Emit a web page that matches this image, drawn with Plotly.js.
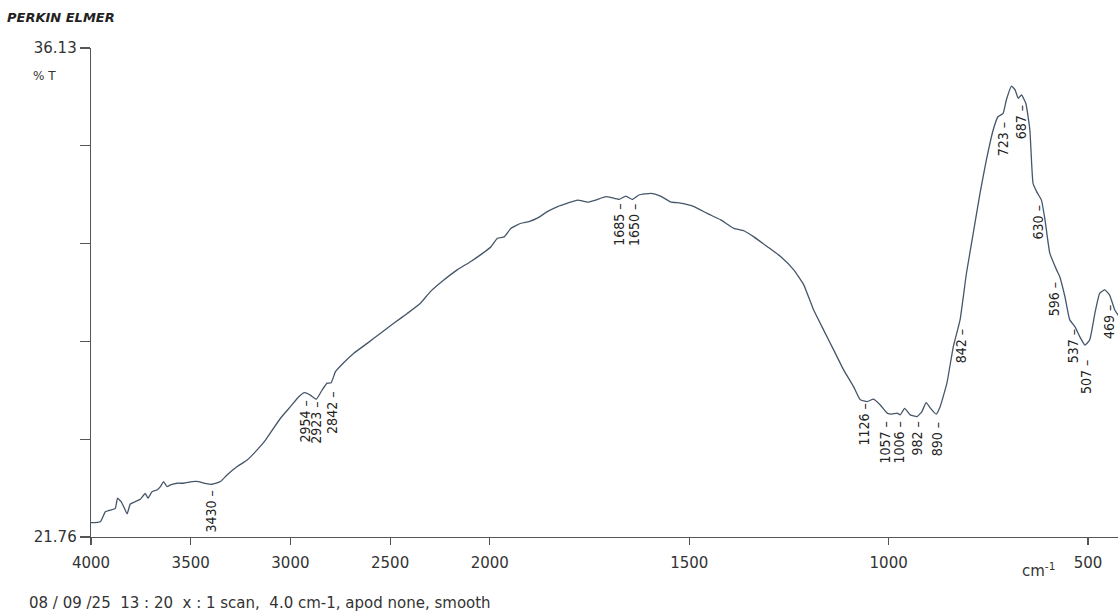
<!DOCTYPE html>
<html>
<head>
<meta charset="utf-8">
<script src="https://cdn.plot.ly/plotly-3.0.1.min.js"></script>
<style>html,body{margin:0;padding:0;background:#fff;}#chart{width:1118px;height:611px;}</style>
</head>
<body>
<div id="chart"></div>
<script>
// Wavenumbers (cm-1) and transmittance (%T)
const wavenumber = [4000,3953,3928,3903,3878,3867,3849,3836,3819,3803,3778,3753,3728,3714,3694,3669,3652,3636,3619,3602,3568,3535,3493,3460,3435,3393,3351,3318,3267,3217,3167,3125,3050,3000,2958,2930,2900,2870,2841,2816,2796,2774,2733,2682,2615,2548,2482,2414,2348,2298,2231,2164,2097,2047,1997,1981,1964,1947,1922,1902,1881,1856,1830,1805,1780,1754,1735,1709,1697,1676,1659,1643,1626,1596,1572,1547,1522,1488,1455,1421,1388,1363,1338,1304,1271,1238,1213,1188,1163,1138,1113,1088,1071,1054,1038,1021,1004,992,979,971,960,946,929,917,906,895,881,871,854,838,821,805,788,771,755,738,726,713,705,692,683,675,667,656,646,638,629,617,608,596,579,571,558,546,533,521,508,496,483,471,458,446,433,420];
const transmittance = [22.18,22.21,22.50,22.55,22.60,22.90,22.80,22.65,22.44,22.73,22.80,22.87,23.04,22.90,23.09,23.14,23.24,23.39,23.24,23.29,23.34,23.34,23.39,23.39,23.34,23.31,23.39,23.58,23.83,24.02,24.32,24.61,25.25,25.59,25.88,26.00,25.93,25.81,26.08,26.28,26.29,26.62,26.88,27.16,27.45,27.75,28.04,28.33,28.63,28.97,29.31,29.61,29.85,30.05,30.29,30.54,30.58,30.83,30.98,31.03,31.13,31.32,31.47,31.57,31.66,31.60,31.66,31.76,31.74,31.68,31.78,31.68,31.81,31.86,31.78,31.61,31.57,31.47,31.27,31.08,30.83,30.76,30.58,30.29,30.00,29.61,29.17,28.43,27.84,27.26,26.67,26.18,25.79,25.74,25.81,25.64,25.40,25.37,25.40,25.35,25.54,25.35,25.30,25.44,25.71,25.54,25.37,25.59,26.28,27.35,28.14,29.51,30.68,31.86,32.84,33.72,34.11,34.21,34.60,35.01,34.90,34.65,34.75,34.50,33.72,32.15,31.91,31.66,31.08,30.10,29.61,29.41,28.82,28.14,27.94,27.65,27.40,27.55,28.33,28.92,29.02,28.87,28.43,28.20];

// Peak labels and where they are printed (cm-1, %T at top of label)
const peakText = ['3430','2954','2923','2842','1685','1650','1126','1057','1006','982','890','842','723','687','630','596','537','507','469'];
const peakAtWn = [3396,2925,2875,2792,1677,1639,1063,1010,975,930,878,818,713,668,625,585,537,505,447];
const peakAtT  = [23.20,25.84,25.80,26.08,31.60,31.60,25.73,25.20,25.20,25.20,25.20,27.93,34.01,34.51,31.57,29.31,27.93,27.02,28.64];

// Axis
const xTickLabels = ['4000','3500','3000','2500','2000','1500','1000','500'];
const yMin = 21.76, yMax = 36.13;

// Perkin Elmer scale: 2x expansion below 2000 cm-1
function xpos(w){ return w >= 2000 ? (4000 - w) / 2 : 1000 + (2000 - w); }

const yMinorTicks = [];
for (let k = 1; k < 5; k++) yMinorTicks.push(yMin + k * (yMax - yMin) / 5);

const trace = {
  x: wavenumber.map(xpos),
  y: transmittance,
  type: 'scatter',
  mode: 'lines',
  line: {color: '#46566a', width: 1.3, shape: 'spline', smoothing: 0.4},
  hoverinfo: 'skip'
};

const labelFont = {family: '"Liberation Sans Narrow","DejaVu Sans Condensed","Roboto Condensed","DejaVu Sans"', size: 14, color: '#222'};
const annotations = peakText.map((t, i) => ({
  x: xpos(peakAtWn[i]), y: peakAtT[i], xref: 'x', yref: 'y',
  text: t + ' \u2013', showarrow: false, textangle: -90,
  xanchor: 'center', yanchor: 'top', font: labelFont
}));

const mainFont = {family: '"DejaVu Sans", Verdana, sans-serif', size: 15, color: '#333'};
annotations.push(
  {xref: 'paper', yref: 'paper', x: -0.0448, y: 0.943, text: '% T', showarrow: false, xanchor: 'center', yanchor: 'middle', font: {family: '"DejaVu Sans"', size: 12, color: '#333'}},
  {xref: 'paper', yref: 'paper', x: -0.0837, y: 1.063, text: '<b><i>PERKIN ELMER</i></b>', showarrow: false, xanchor: 'left', yanchor: 'middle', font: {family: '"DejaVu Sans"', size: 13, color: '#222'}},
  {xref: 'paper', yref: 'paper', x: 0.923, y: -0.0675, text: 'cm<sup>-1</sup>', showarrow: false, xanchor: 'center', yanchor: 'middle', font: mainFont},
  {xref: 'paper', yref: 'paper', x: -0.0623, y: -0.135, text: '08 / 09 /25  13 : 20  x : 1 scan,  4.0 cm-1, apod none, smooth', showarrow: false, xanchor: 'left', yanchor: 'middle', font: mainFont}
);

const layout = {
  width: 1118, height: 611,
  margin: {l: 91, r: 0, t: 48, b: 74},
  paper_bgcolor: '#fff', plot_bgcolor: '#fff',
  showlegend: false,
  font: mainFont,
  xaxis: {
    range: [0, 2575], showgrid: false, zeroline: false,
    showline: true, linecolor: '#555', linewidth: 1.3,
    ticks: 'outside', ticklen: 7, tickcolor: '#555', tickwidth: 1.2,
    tickvals: xTickLabels.map(Number).map(xpos),
    ticktext: xTickLabels, ticklabelstandoff: 5,
    tickfont: mainFont
  },
  yaxis: {
    range: [yMin, yMax], showgrid: false, zeroline: false,
    showline: true, linecolor: '#555', linewidth: 1.3,
    ticks: 'outside', ticklen: 10, tickcolor: '#555', tickwidth: 1.2,
    tickvals: [yMin, yMax], ticktext: [yMin.toFixed(2), yMax.toFixed(2)], tickfont: mainFont,
    minor: {tickvals: yMinorTicks, ticks: 'outside', ticklen: 10, tickcolor: '#555', tickwidth: 1.2, showgrid: false}
  },
  annotations: annotations
};

Plotly.newPlot('chart', [trace], layout, {staticPlot: true});
</script>
</body>
</html>
